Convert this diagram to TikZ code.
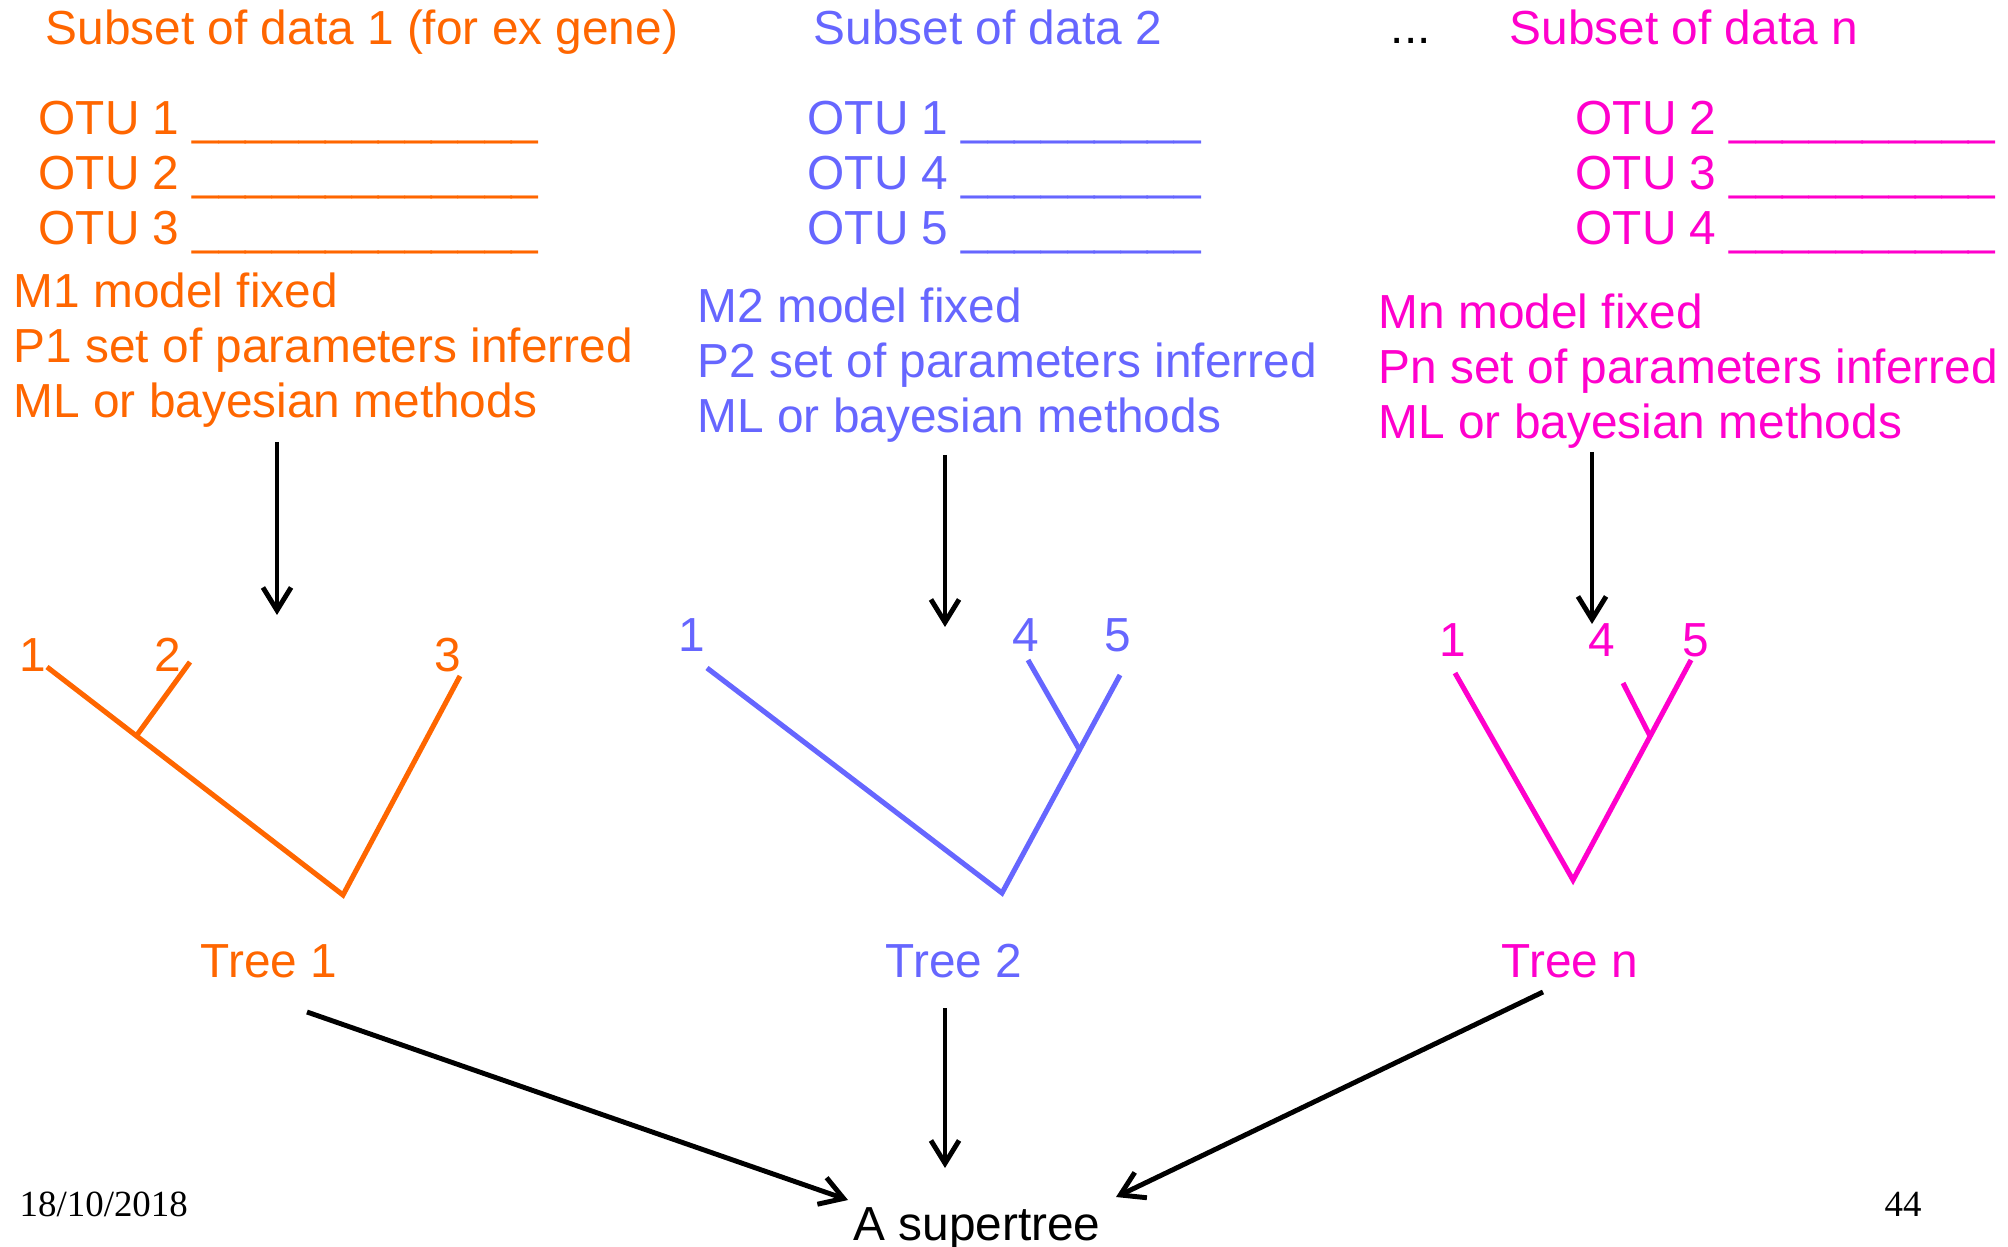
\documentclass[tikz,border=0pt]{standalone}
\usepackage{fontspec}
\setmainfont{Liberation Sans}
\newfontfamily\footfont{Liberation Serif}
\usepackage{xcolor}
\usepackage{tikz}
\usetikzlibrary{positioning,arrows.meta}

\definecolor{orangeA}{RGB}{255,102,0}
\definecolor{blueB}{RGB}{102,102,255}
\definecolor{pinkN}{RGB}{255,0,204}

\begin{document}
\begin{tikzpicture}[
    x=0.1mm, y=-0.1mm,
    font=\fontsize{13.6}{15.6}\selectfont,
    txt/.style={inner sep=0pt, anchor=base west},
    lbl/.style={inner sep=0pt, anchor=base},
    small/.style={font=\footfont\fontsize{10.5}{12}\selectfont},
    branch/.style={line width=1.45pt},
    arrow/.style={-{Straight Barb[length=6.5pt,width=8pt]}, line width=1.4pt, black}
]
\useasboundingbox (0,0) rectangle (2008,1247);

% data subsets
\node[txt, orangeA] (sub1) at (45,45) {Subset of data 1 (for ex gene)};
\node[txt, blueB] (sub2) at (813,45) {Subset of data 2};
\node[txt] (dots) at (1390,44) {...};
\node[txt, pinkN] (subn) at (1509,45) {Subset of data n};

\foreach \k/\y in {1/135,2/190,3/245}
    \node[txt, orangeA] (otuA\k) at (38,\y) {OTU \k\ \_\_\_\_\_\_\_\_\_\_\_\_\_};
\foreach \k/\y in {1/135,4/190,5/245}
    \node[txt, blueB] (otuB\k) at (807,\y) {OTU \k\ \_\_\_\_\_\_\_\_\_};
\foreach \k/\y in {2/135,3/190,4/245}
    \node[txt, pinkN] (otuN\k) at (1575,\y) {OTU \k\ \_\_\_\_\_\_\_\_\_\_};

% models
\foreach \t [count=\i] in {M1 model fixed, P1 set of parameters inferred, ML or bayesian methods}
    \node[txt, orangeA] (infoA\i) at (13,253+55*\i) {\t};
\foreach \t [count=\i] in {M2 model fixed, P2 set of parameters inferred, ML or bayesian methods}
    \node[txt, blueB] (infoB\i) at (697,268+55*\i) {\t};
\foreach \t [count=\i] in {Mn model fixed, Pn set of parameters inferred, ML or bayesian methods}
    \node[txt, pinkN] (infoN\i) at (1378,274+55*\i) {\t};

% inference arrows
\coordinate (inA) at (277,442);  \coordinate (outA) at (277,615);
\coordinate (inB) at (945,455);  \coordinate (outB) at (945,627);
\coordinate (inN) at (1592,452); \coordinate (outN) at (1592,624);
\draw[arrow] (inA) -- (outA);
\draw[arrow] (inB) -- (outB);
\draw[arrow] (inN) -- (outN);

% tree 1
\coordinate (a1) at (47,667);   \coordinate (a2) at (190,662);
\coordinate (a3) at (460,676);  \coordinate (a12) at (137,735);
\coordinate (aroot) at (343,895);
\draw[branch, orangeA] (a1) -- (aroot) -- (a3);
\draw[branch, orangeA] (a12) -- (a2);
\node[lbl, orangeA] (la1) at (33,672) {1};
\node[lbl, orangeA] (la2) at (168,672) {2};
\node[lbl, orangeA] (la3) at (448,672) {3};

% tree 2
\coordinate (b1) at (707,668);  \coordinate (b4) at (1028,660);
\coordinate (b5) at (1120,675); \coordinate (b45) at (1079,749);
\coordinate (broot) at (1002,893);
\draw[branch, blueB] (b1) -- (broot) -- (b5);
\draw[branch, blueB] (b45) -- (b4);
\node[lbl, blueB] (lb1) at (692,652) {1};
\node[lbl, blueB] (lb4) at (1026,652) {4};
\node[lbl, blueB] (lb5) at (1118,652) {5};

% tree n
\coordinate (n1) at (1455,673); \coordinate (n4) at (1623,683);
\coordinate (n5) at (1691,660); \coordinate (n45) at (1650,736);
\coordinate (nroot) at (1573,880);
\draw[branch, pinkN] (n1) -- (nroot) -- (n5);
\draw[branch, pinkN] (n45) -- (n4);
\node[lbl, pinkN] (ln1) at (1453,657) {1};
\node[lbl, pinkN] (ln4) at (1602,657) {4};
\node[lbl, pinkN] (ln5) at (1696,657) {5};

% tree names and supertree
\node[lbl, orangeA] (tree1) at (269,977) {Tree 1};
\node[lbl, blueB] (tree2) at (954,977) {Tree 2};
\node[lbl, pinkN] (treen) at (1570,977) {Tree n};
\node[lbl] (super) at (977,1240) {A supertree};

\coordinate (fromA) at (307,1012); \coordinate (toA) at (848,1200);
\coordinate (fromB) at (945,1008); \coordinate (toB) at (945,1168);
\coordinate (fromN) at (1543,992); \coordinate (toN) at (1116,1197);
\draw[arrow] (fromA) -- (toA);
\draw[arrow] (fromB) -- (toB);
\draw[arrow] (fromN) -- (toN);

% footer
\node[txt, small] (date) at (19,1216) {18/10/2018};
\node[lbl, small] (page) at (1903,1216) {44};

\end{tikzpicture}
\end{document}
